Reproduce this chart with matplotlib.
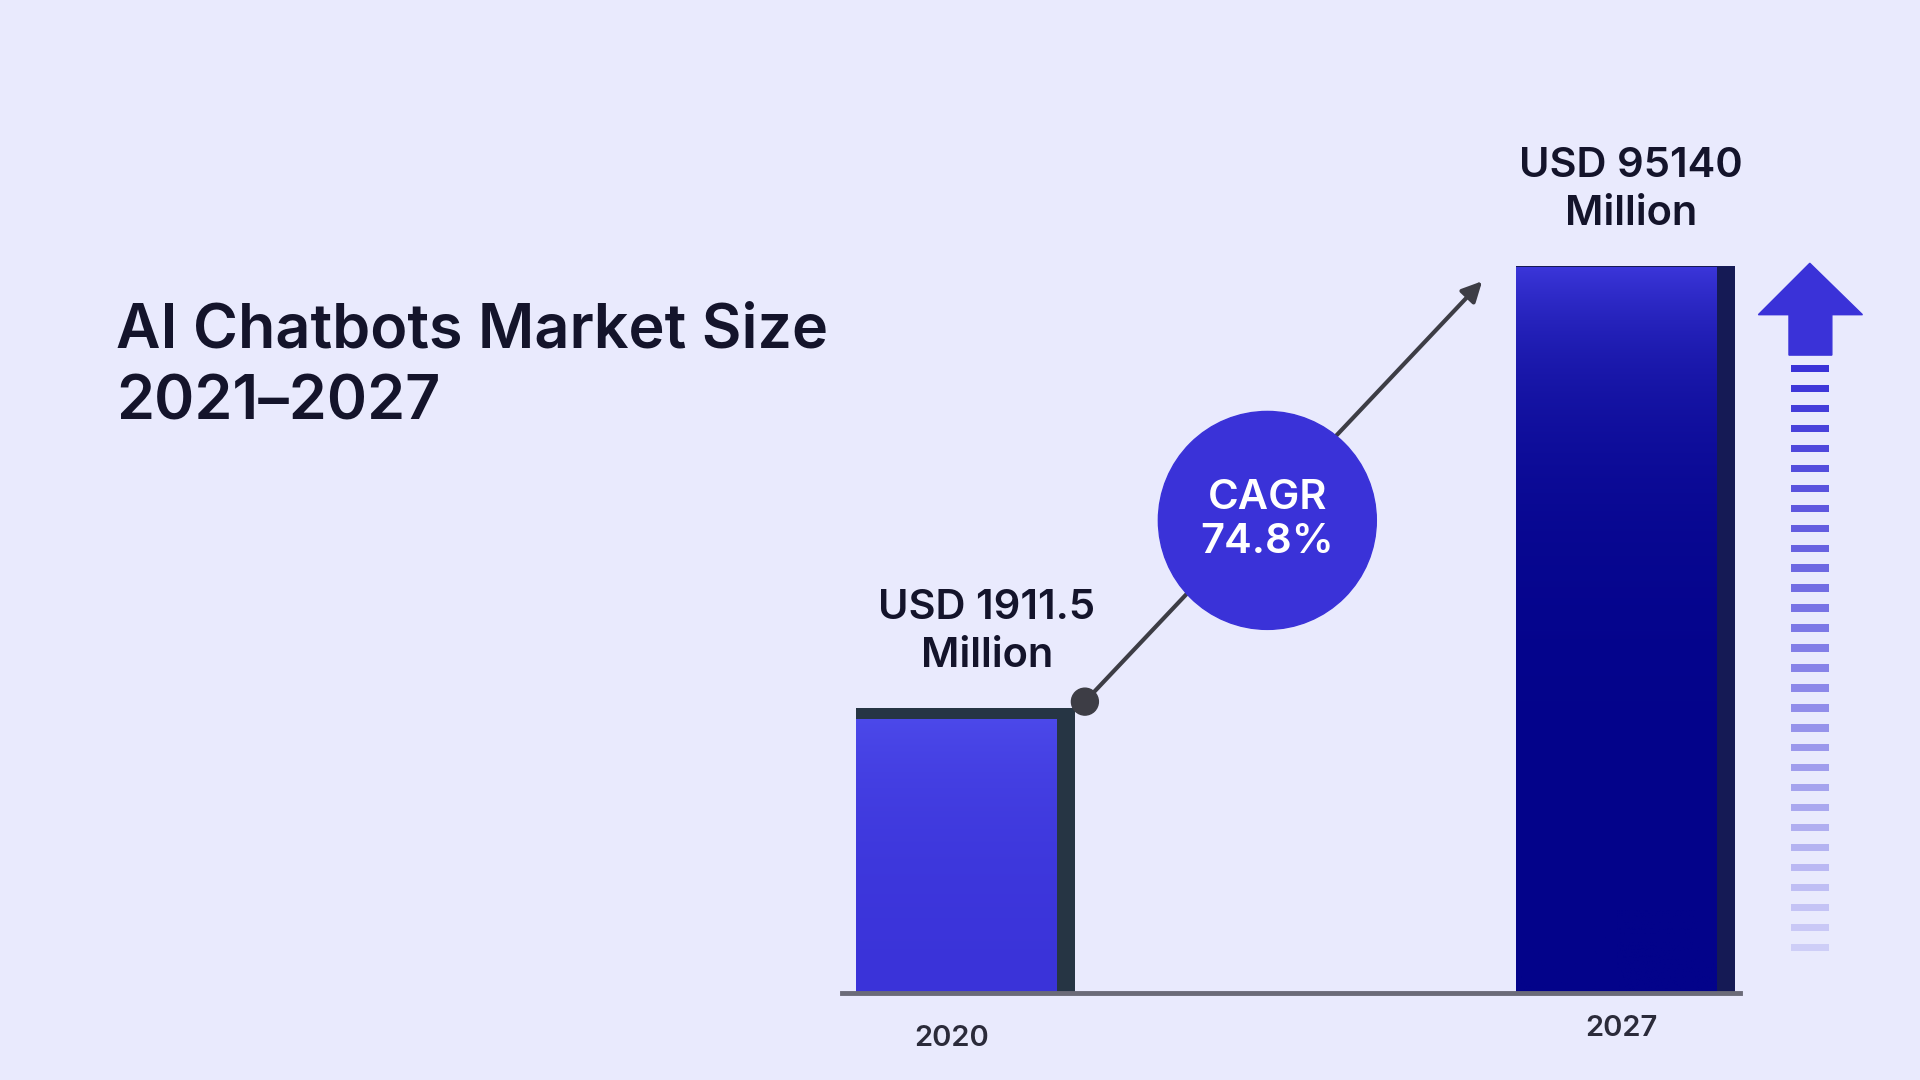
import numpy as np
import matplotlib
matplotlib.use("Agg")
import matplotlib.pyplot as plt
from matplotlib.patches import Rectangle, Circle, Polygon
from matplotlib.colors import LinearSegmentedColormap

years = ["2020", "2027"]
values = [1911.5, 95140]
value_labels = ["USD 1911.5\nMillion", "USD 95140\nMillion"]
title = "AI Chatbots Market Size\n2021–2027"
cagr_text = "CAGR\n74.8%"

BG = "#e9eafd"
FONT = ["Inter", "DejaVu Sans"]
fig = plt.figure(figsize=(19.2, 10.8), dpi=100, facecolor=BG)

# data axes (log scale so both bars are visible, as in the reference)
ax = fig.add_axes([0, 71/882, 1, 811/882])
ax.set_facecolor("none")
ax.set_yscale("log")
ax.set_ylim(178, 955000)
ax.set_xlim(-1.463, 1.446)
ax.axis("off")

W = 0.332
strip = 14/539
grads = [("#4c49ea", "#3a33d9"), ("#3b36da", "#03038a")]
darks = ["#263544", "#151a55"]
xs = np.arange(len(years))
for x, v, (ct, cb), dk in zip(xs, values, grads, darks):
    bars = ax.bar(x, v, width=W, bottom=178, color=dk, zorder=2)
    r = Rectangle((x - W/2, 178), W - strip, v - 178, facecolor="none", edgecolor="none")
    ax.add_patch(r)
    cmap = LinearSegmentedColormap.from_list("g", [cb, ct])
    grad = np.linspace(0, 1, 256).reshape(-1, 1)
    im = ax.imshow(grad, cmap=cmap, aspect="auto", origin="lower",
                   extent=[x - W/2, x + W/2 - strip, 178, v], zorder=3)
    im.set_clip_path(r)

ax.plot([-0.187, 1.173], [178, 178], color="#6b6b78", lw=3.5, zorder=4, clip_on=False)

# overlay axes in reference pixel coordinates for decorations
ov = fig.add_axes([0, 0, 1, 1])
ov.set_xlim(0, 1568); ov.set_ylim(882, 0)
ov.axis("off"); ov.set_facecolor("none")

ov.text(95, 300, title, fontsize=44, fontweight="semibold", family=FONT,
        color="#14142b", va="center", ha="left", linespacing=1.3)

label_pos = [(806, 516), (1332, 155)]
for (lx, ly), t in zip(label_pos, value_labels):
    ov.text(lx, ly, t, fontsize=30, fontweight="semibold", family=FONT,
            color="#14142b", ha="center", va="center", linespacing=1.35)
year_pos = [(777, 848), (1324, 840)]
for (lx, ly), t in zip(year_pos, years):
    ov.text(lx, ly, t, fontsize=21, fontweight="semibold", family=FONT,
            color="#2b2b3a", ha="center", va="center")

# growth arrow with circle
ov.annotate("", xy=(1212, 228), xytext=(886, 573),
            arrowprops=dict(arrowstyle="-|>", color="#3d3d45", lw=3, mutation_scale=30))
ov.add_patch(Circle((886, 573), 11, color="#3d3d45", zorder=5))
ov.add_patch(Circle((1035, 425), 89, color="#3a32d8", zorder=6))
ov.text(1035, 425, cagr_text, fontsize=30, fontweight="semibold", family=FONT,
        color="white", ha="center", va="center", zorder=7, linespacing=1.2)

# right-side up arrow and fading dashes
ov.add_patch(Polygon([(1436, 257), (1478, 215), (1521, 257), (1496, 257),
                      (1496, 290), (1461, 290), (1461, 257)], closed=True,
                     color="#3a32d8", zorder=5))
ys = np.arange(298, 772, 16.3)
n = len(ys)
for i, y in enumerate(ys):
    a = 1 - 0.85 * i / (n - 1)
    ov.add_patch(Rectangle((1463, y), 31, 6, color="#3a32d8", alpha=a, lw=0))

fig.savefig("out.png", dpi=100, facecolor=BG)
